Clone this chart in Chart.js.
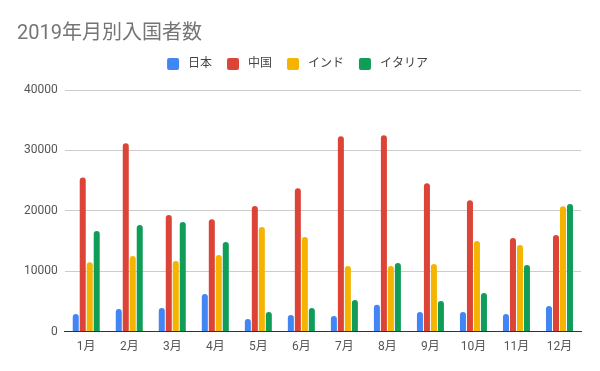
<!DOCTYPE html>
<html><head><meta charset="utf-8">
<script src="https://cdn.jsdelivr.net/npm/chart.js@4"></script>
<style>html,body{margin:0;padding:0;background:#fff;}#wrap{width:600px;height:371px;position:relative;}</style>
</head><body><div id="wrap"><canvas id="c"></canvas></div>
<script>
const title = "2019年月別入国者数";
const categories = ["1月","2月","3月","4月","5月","6月","7月","8月","9月","10月","11月","12月"];
const seriesNames = ["日本","中国","インド","イタリア"];
const japan = [2900,3750,3920,6230,2100,2760,2600,4460,3250,3250,2925,4250];
const china = [25500,31200,19300,18600,20800,23750,32350,32500,24570,21760,15500,15980];
const india = [11500,12500,11700,12700,17300,15650,10860,10860,11190,14990,14330,20770];
const italy = [16640,17640,18130,14830,3260,3910,5240,11350,5070,6390,11020,21110];
const yTicks = [0,10000,20000,30000,40000];
const colors = ["#4285F4","#DB4437","#F4B400","#0F9D58"];
const font = "Roboto, 'Noto Sans CJK JP', sans-serif";

const legendExtra = {
  id: 'legendExtra',
  beforeInit(chart) {
    const orig = chart.legend.fit;
    chart.legend.fit = function() { orig.bind(chart.legend)(); this.height += 10; };
  }
};

const seriesData = [japan, china, india, italy];
new Chart(document.getElementById('c'), {
  type: 'bar',
  data: {
    labels: categories,
    datasets: seriesNames.map((n,i)=>({
      label: n, data: seriesData[i], backgroundColor: colors[i], borderColor: colors[i], borderWidth: 0,
      borderRadius: {topLeft:3, topRight:3, bottomLeft:0, bottomRight:0}, borderSkipped: 'start',
      categoryPercentage: 0.65, barPercentage: 0.86
    }))
  },
  plugins: [legendExtra],
  options: {
    responsive: true, maintainAspectRatio: false, animation: false,
    layout: {padding: {left: 17, right: 19, top: 5, bottom: 9}},
    plugins: {
      title: {display: true, text: title, align: 'start', color: '#757575',
        font: {family: font, size: 20, weight: 'normal'}, padding: {top: 17, bottom: 0}},
      legend: {position: 'top', labels: {usePointStyle: false, boxWidth: 12, boxHeight: 12,
        useBorderRadius: true, borderRadius: 2,
        color: '#444', font: {family: font, size: 12}, padding: 12,
        generateLabels: (chart) => Chart.defaults.plugins.legend.labels.generateLabels(chart).map(l => ({...l, lineWidth: 0, text: ' ' + l.text + ' '}))}},
      tooltip: {enabled: false}
    },
    scales: {
      x: {grid: {display: false, drawTicks: false}, border: {color: '#333', width: 1},
        ticks: {color: '#555', font: {family: font, size: 12}, padding: 8}},
      y: {min: 0, max: 40000, afterBuildTicks: a => { a.ticks = yTicks.map(v=>({value:v})); },
        grid: {color: '#ccc', drawTicks: false}, border: {display: false},
        ticks: {color: '#555', font: {family: font, size: 12}, padding: 7, callback: v => String(v)}}
    }
  }
});
</script></body></html>
